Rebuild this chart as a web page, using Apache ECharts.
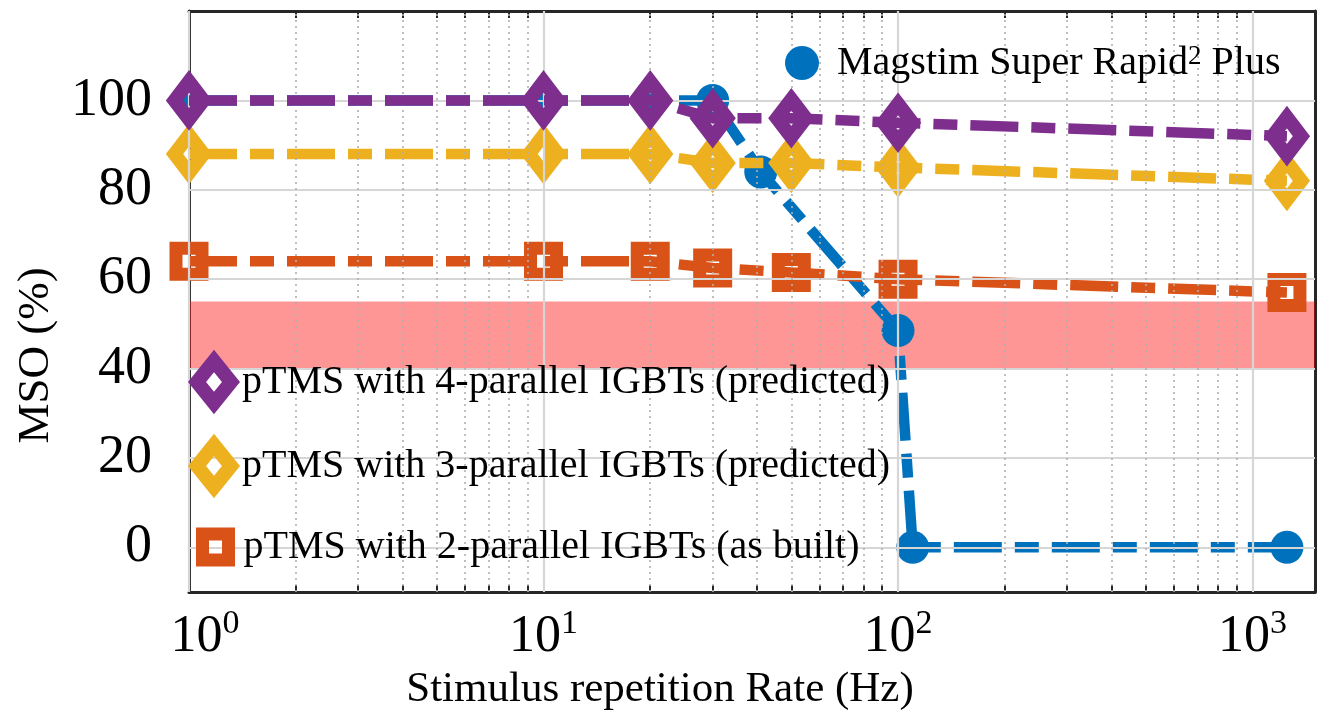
<!DOCTYPE html>
<html><head><meta charset="utf-8">
<script src="https://cdn.jsdelivr.net/npm/echarts@6/dist/echarts.min.js"></script>
<style>html,body{margin:0;padding:0;background:#fff}#c{width:1326px;height:725px}</style>
</head><body><div id="c"></div>
<script>
// ---- data ----
const rateX = [1, 10, 20, 30, 50, 100, 1250];
const magstimX = [1, 10, 20, 30, 41, 100, 110, 1250];
const magstimY = [100, 100, 100, 100, 84, 48.5, 0, 0];
const igbt4 = [100, 100, 100, 96, 96, 95, 92];
const igbt3 = [88, 88, 88, 86, 86, 85, 82];
const igbt2 = [64, 64, 64, 62.5, 61.5, 60, 57];
const xMajor = [1, 10, 100, 1000];
const xMinor = [2, 3, 4, 5, 6, 7, 8, 9, 20, 30, 40, 50, 60, 70, 80, 90, 200, 300, 400, 500, 600, 700, 800, 900];
const xTickValues = [1, 2, 3, 4, 5, 6, 7, 8, 9, 10, 20, 30, 40, 50, 60, 70, 80, 90, 100, 200, 300, 400, 500, 600, 700, 800, 900, 1000];
const yTicks = [0, 20, 40, 60, 80, 100];
const bandRange = [40, 55];
const nameMag = 'Magstim Super Rapid2 Plus';
const name4 = 'pTMS with 4-parallel IGBTs (predicted)';
const name3 = 'pTMS with 3-parallel IGBTs (predicted)';
const name2 = 'pTMS with 2-parallel IGBTs (as built)';

// ---- style ----
const FONT = 'Liberation Serif';
const BLUE = '#0072BD', ORANGE = '#D95319', YELLOW = '#EDB120', PURPLE = '#7E2F8E';
const AX = '#262626';
const DASH = [48, 13, 24, 13];

const chart = echarts.init(document.getElementById('c'), null, {renderer: 'canvas'});

const gridLines = [].concat(
  yTicks.map(v => ({yAxis: v, lineStyle: {color: '#d6d6d6', width: 2.2, type: 'solid'}})),
  xMajor.map(v => ({xAxis: v, lineStyle: {color: '#d6d6d6', width: 2.2, type: 'solid'}})),
  xMinor.map(v => ({xAxis: v, lineStyle: {color: '#b0b0b0', width: 1.6, type: [2, 4]}}))
);

function xAxisCfg(pos, showLabel) {
  return {
    type: 'log', logBase: 10, min: 1, max: 1500, position: pos, z: 0,
    axisLine: {show: true, onZero: false, lineStyle: {color: AX, width: 3}},
    axisTick: {show: true, inside: true, length: 7, lineStyle: {color: AX, width: 2}, customValues: xTickValues},
    axisLabel: showLabel ? {
      show: true, customValues: xMajor, margin: 15,
      formatter: v => (v === 1 ? '{b0|10}' : '{b|10}') + '{s|' + Math.round(Math.log10(v)) + '}',
      rich: {
        b: {fontFamily: FONT, fontSize: 52, color: '#000', lineHeight: 56, verticalAlign: 'bottom'},
        b0: {fontFamily: FONT, fontSize: 52, color: '#000', lineHeight: 56, verticalAlign: 'bottom', padding: [0, 0, 0, 32]},
        s: {fontFamily: FONT, fontSize: 34, color: '#000', lineHeight: 34, verticalAlign: 'top'}
      }
    } : {show: false},
    splitLine: {show: false}, minorTick: {show: false}, minorSplitLine: {show: false},
    name: showLabel ? 'Stimulus repetition Rate (Hz)' : '',
    nameLocation: 'middle', nameGap: 64,
    nameTextStyle: {fontFamily: FONT, fontSize: 43, color: '#000', padding: [0, 184, 0, 0]}
  };
}
function yAxisCfg(pos, showLabel) {
  return {
    type: 'value', min: -10, max: 120, position: pos, z: 0,
    axisLine: {show: true, onZero: false, lineStyle: {color: AX, width: 3}},
    axisTick: {show: true, inside: true, length: 12, lineStyle: {color: AX, width: 2}, customValues: yTicks},
    axisLabel: showLabel ? {show: true, customValues: yTicks, margin: 37, fontFamily: FONT, fontSize: 54, color: '#000'} : {show: false},
    splitLine: {show: false},
    name: showLabel ? 'MSO (%)' : '',
    nameLocation: 'middle', nameGap: 130,
    nameTextStyle: {fontFamily: FONT, fontSize: 45, color: '#000', padding: [0, 108, 0, 0]}
  };
}

function mkLine(name, xs, ys, color, symbol, size, border, z) {
  return {
    name: name, type: 'line', z: z,
    data: xs.map((x, i) => [x, ys[i]]),
    symbol: symbol, symbolSize: size,
    itemStyle: border > 0 ? {color: 'rgba(0,0,0,0)', borderColor: color, borderWidth: border} : {color: color, borderWidth: 0},
    lineStyle: {color: color, width: 10.5, type: DASH, cap: 'butt'},
    emphasis: {disabled: true}, silent: true, animation: false
  };
}

const legendBase = {
  orient: 'vertical', padding: 0, z: 20, selectedMode: false,
  textStyle: {fontFamily: FONT, fontSize: 40, color: '#000'}
};

const option = {
  backgroundColor: '#fff',
  animation: false,
  grid: {left: 189, right: 11, top: 11, bottom: 133, containLabel: false, outerBoundsMode: 'none'},
  xAxis: [xAxisCfg('bottom', true), xAxisCfg('top', false)],
  yAxis: [yAxisCfg('left', true), yAxisCfg('right', false)],
  legend: [
    Object.assign({}, legendBase, {
      left: 785, top: 43, itemWidth: 60, itemHeight: 34, symbolKeepAspect: true,
      data: [{name: nameMag, icon: 'circle', itemStyle: {color: BLUE, borderWidth: 0}}],
      formatter: () => 'Magstim Super Rapid{sup|2} Plus',
      textStyle: {fontFamily: FONT, fontSize: 40, color: '#000',
        rich: {sup: {fontFamily: FONT, fontSize: 27, lineHeight: 27, verticalAlign: 'top', color: '#000'}}}
    }),
    Object.assign({}, legendBase, {
      left: 190, top: 354, itemWidth: 34, itemHeight: 42, symbolKeepAspect: false,
      data: [{name: name4, icon: 'diamond', itemStyle: {color: 'rgba(0,0,0,0)', borderColor: PURPLE, borderWidth: 14}}],
      textStyle: {fontFamily: FONT, fontSize: 40, color: '#000', padding: [0, 0, 0, 6]}
    }),
    Object.assign({}, legendBase, {
      left: 190, top: 438, itemWidth: 34, itemHeight: 42, symbolKeepAspect: false,
      data: [{name: name3, icon: 'diamond', itemStyle: {color: 'rgba(0,0,0,0)', borderColor: YELLOW, borderWidth: 14}}],
      textStyle: {fontFamily: FONT, fontSize: 40, color: '#000', padding: [0, 0, 0, 6]}
    }),
    Object.assign({}, legendBase, {
      left: 196, top: 527, itemWidth: 26, itemHeight: 26, symbolKeepAspect: false,
      data: [{name: name2, icon: 'rect', itemStyle: {color: 'rgba(0,0,0,0)', borderColor: ORANGE, borderWidth: 13}}],
      textStyle: {fontFamily: FONT, fontSize: 40, color: '#000', padding: [0, 0, 0, 10]}
    })
  ],
  series: [
    {
      name: 'grid', type: 'line', data: [], z: 1, silent: true, animation: false,
      markLine: {silent: true, symbol: ['none', 'none'], label: {show: false}, animation: false,
        emphasis: {disabled: true}, data: gridLines}
    },
    mkLine(nameMag, magstimX, magstimY, BLUE, 'circle', 33, 0, 2),
    mkLine(name2, rateX, igbt2, ORANGE, 'rect', 26, 13, 3),
    mkLine(name3, rateX, igbt3, YELLOW, 'diamond', [29, 38], 14, 4),
    mkLine(name4, rateX, igbt4, PURPLE, 'diamond', [29, 38], 14, 5),
    {
      name: 'band', type: 'line', data: [], z: 10, silent: true, animation: false,
      markArea: {silent: true, animation: false, itemStyle: {color: 'rgba(255,0,0,0.41)', borderWidth: 0},
        label: {show: false}, emphasis: {disabled: true},
        data: [[{yAxis: bandRange[0]}, {yAxis: bandRange[1]}]]}
    }
  ]
};
chart.setOption(option);
</script>
</body></html>
